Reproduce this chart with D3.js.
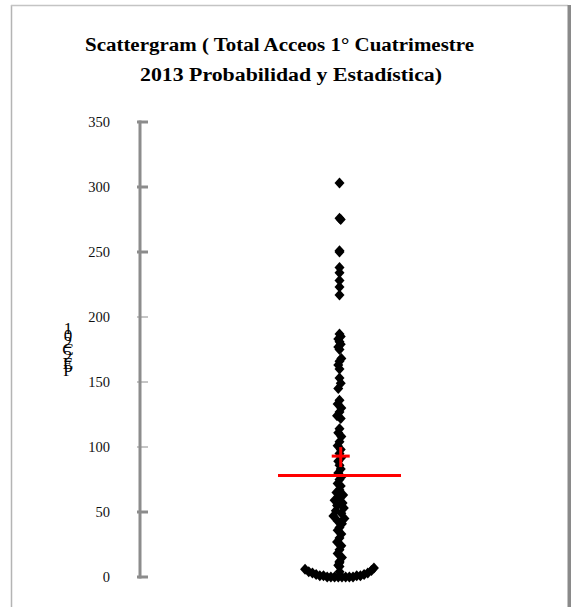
<!DOCTYPE html>
<html>
<head>
<meta charset="utf-8">
<script src="https://cdn.jsdelivr.net/npm/d3@7"></script>
<style>
  html, body { margin: 0; padding: 0; background: #fff; }
  svg { display: block; }
</style>
</head>
<body>
<div id="chart"></div>
<script>
// ---- data ----
const titleLines = ["Scattergram ( Total Acceos  1° Cuatrimestre", "2013 Probabilidad y Estadística)"];
const yAxisLabelChars = ["1", "0", "2", "C", "2", "E", "P"];
const yTicks = [0, 50, 100, 150, 200, 250, 300, 350];
const yDomain = [0, 350];
// point values (Total Acceos) and their horizontal spread offsets
const pointValues = [
  303, 276, 275, 251, 250, 238, 234, 228, 223, 217,
  187, 185, 183, 181, 179, 177, 175,
  168, 166, 163, 160,
  153, 149, 145,
  136, 133, 130, 127, 124, 122,
  114, 111, 108, 104, 101,
  98, 95, 92, 89, 86, 83,
  80, 77, 75, 72, 70, 67,
  65, 63, 61, 59, 57, 55, 53, 51, 49, 47, 45, 43, 41, 38, 36,
  33, 30, 27, 24, 21, 18, 15, 12, 9,
  6, 4, 3, 2, 1, 1, 0, 0, 0, 0, 0, 0, 0, 0, 1, 1, 2, 3, 5, 7, 4, 8, 11
];
const pointOffsets = [
  0, 0, 0.02, 0, 0, 0, 0, 0, 0, 0,
  0, 0.02, -0.02, 0, 0.02, -0.02, 0,
  0.03, 0, -0.02, 0,
  0, 0.02, -0.02,
  0, -0.03, 0.03, 0, -0.04, 0.02,
  0, -0.02, 0.03, 0, -0.03,
  0.02, 0, 0.03, -0.02, 0, 0.02,
  -0.02, 0.03, 0, -0.03, 0.02, 0,
  -0.05, 0.06, 0, -0.08, 0.05, -0.04, 0.07, -0.06, 0.03, -0.1, 0.08, -0.03, 0.04, 0, -0.03,
  0.03, 0, -0.04, 0.03, 0, -0.03, 0.04, 0, -0.02,
  -0.56, -0.5, -0.44, -0.38, -0.32, -0.26, -0.2, -0.14, -0.08, -0.02, 0.04, 0.1, 0.16, 0.22, 0.28, 0.34, 0.4, 0.46, 0.52, 0.56, 0, 0, 0
];
const meanValue = [93];
const medianValue = [78];

// ---- layout ----
const W = 571, H = 607;
const svg = d3.select("#chart").append("svg").attr("width", W).attr("height", H);

// frame
svg.append("line").attr("x1", 11.5).attr("x2", 11.5).attr("y1", 5).attr("y2", H)
  .attr("stroke", "#b4b4b4").attr("stroke-width", 1.5);
svg.append("line").attr("x1", 11).attr("x2", 568).attr("y1", 5.5).attr("y2", 5.5)
  .attr("stroke", "#c4c4c4").attr("stroke-width", 1.5);
svg.append("rect").attr("x", 567.5).attr("y", 5).attr("width", 3.5).attr("height", H)
  .attr("fill", "#8a8a8a");

// title
const title = svg.append("g").attr("font-family", "'Liberation Serif', 'Times New Roman', serif")
  .attr("font-weight", "bold").attr("font-size", 18.5).attr("fill", "#000");
title.append("text").attr("x", 85).attr("y", 51)
  .attr("textLength", 389).attr("lengthAdjust", "spacingAndGlyphs").text(titleLines[0]);
title.append("text").attr("x", 140).attr("y", 81)
  .attr("textLength", 302).attr("lengthAdjust", "spacingAndGlyphs").text(titleLines[1]);

// scales
const y = d3.scaleLinear().domain(yDomain).range([577, 122]);
const x = d3.scaleLinear().domain([-1, 1]).range([278, 401]);
const axisX = 140;

// y axis
const axisG = svg.append("g");
axisG.append("line").attr("x1", axisX).attr("x2", axisX).attr("y1", y(350) - 1.5).attr("y2", y(0) + 1.5)
  .attr("stroke", "#8c8c8c").attr("stroke-width", 3);
axisG.selectAll(".tick").data(yTicks).join("line")
  .attr("x1", axisX - 3).attr("x2", axisX + 8)
  .attr("y1", d => y(d)).attr("y2", d => y(d))
  .attr("stroke", "#8c8c8c")
  .attr("stroke-width", d => (d === 100 || d === 150 || d === 200) ? 1 : 3);
axisG.selectAll(".lbl").data(yTicks).join("text")
  .attr("x", 110).attr("y", d => y(d) + 5)
  .attr("text-anchor", "end")
  .attr("font-family", "'Liberation Serif', 'Times New Roman', serif")
  .attr("font-size", 14.5).attr("fill", "#111")
  .text(d => d);

// stacked y label
const yl = svg.append("text")
  .attr("font-family", "'Liberation Serif', 'Times New Roman', serif")
  .attr("font-size", 17).attr("fill", "#000").attr("text-anchor", "middle");
yAxisLabelChars.forEach((c, i) => {
  yl.append("tspan").attr("x", 68).attr("y", 334 + i * 7).text(c);
});

// points (diamonds)
const hw = 5, hh = 5.5;
const pts = pointValues.map((v, i) => ({ v, o: pointOffsets[i] }));
svg.append("g").selectAll("path").data(pts).join("path")
  .attr("d", d => {
    const cx = x(d.o), cy = y(d.v);
    return `M${cx},${cy - hh}L${cx + hw},${cy}L${cx},${cy + hh}L${cx - hw},${cy}Z`;
  })
  .attr("fill", "#000");

// median line
svg.append("g").selectAll("line").data(medianValue).join("line")
  .attr("x1", x(-1)).attr("x2", x(1))
  .attr("y1", d => y(d)).attr("y2", d => y(d))
  .attr("stroke", "#ff0000").attr("stroke-width", 3);

// mean marker (+)
const mg = svg.append("g");
meanValue.forEach(m => {
  mg.append("line").attr("x1", x(0.02) - 9).attr("x2", x(0.02) + 9)
    .attr("y1", y(m)).attr("y2", y(m)).attr("stroke", "#ff0000").attr("stroke-width", 3);
  mg.append("line").attr("x1", x(0.02)).attr("x2", x(0.02))
    .attr("y1", y(m) - 9).attr("y2", y(m) + 11).attr("stroke", "#ff0000").attr("stroke-width", 3);
});
</script>
</body>
</html>
